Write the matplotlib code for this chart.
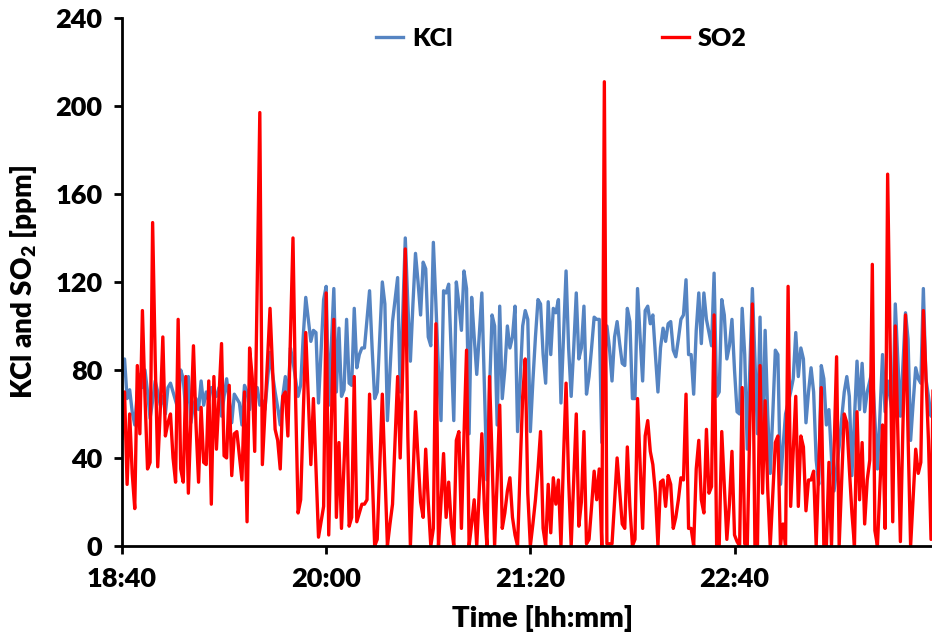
import numpy as np
import matplotlib
matplotlib.use("Agg")
import matplotlib.pyplot as plt

# Minute-by-minute readings starting at 18:40
so2 = [
    49, 70, 28, 60, 33, 17, 82, 51, 107, 68,
    35, 38, 147, 85, 36, 62, 95, 50, 56, 60,
    40, 29, 103, 35, 29, 77, 24, 58, 91, 55,
    29, 63, 38, 37, 75, 19, 77, 44, 68, 92,
    41, 40, 73, 32, 51, 52, 41, 30, 70, 11,
    90, 77, 43, 120, 197, 37, 60, 84, 108, 80,
    53, 48, 35, 68, 70, 50, 95, 140, 68, 15,
    21, 59, 97, 67, 37, 67, 36, 4, 11, 18,
    115, 5, 54, 103, 13, 47, 8, 38, 67, 9,
    13, 77, 11, 15, 19, 19, 21, 69, 35, 0,
    3, 36, 69, 35, 0, 10, 19, 48, 77, 40,
    80, 135, 50, 0, 30, 61, 40, 20, 13, 44,
    20, 0, 8, 101, 0, 20, 42, 13, 29, 10,
    0, 48, 52, 8, 50, 89, 0, 10, 21, 0,
    25, 51, 17, 0, 77, 40, 0, 30, 64, 8,
    15, 25, 31, 13, 5, 0, 35, 68, 85, 24,
    0, 10, 21, 35, 52, 8, 0, 28, 6, 31,
    19, 30, 0, 40, 74, 30, 0, 30, 60, 9,
    20, 52, 1, 3, 18, 34, 21, 35, 0, 211,
    1, 1, 1, 20, 40, 25, 10, 8, 45, 18,
    0, 3, 67, 38, 8, 50, 57, 43, 37, 24,
    0, 29, 30, 18, 32, 28, 8, 13, 21, 31,
    30, 69, 8, 8, 0, 35, 48, 21, 15, 53,
    24, 27, 105, 0, 0, 52, 28, 3, 19, 43,
    5, 2, 0, 72, 1, 0, 55, 110, 0, 0,
    82, 24, 66, 26, 0, 24, 47, 50, 0, 10,
    0, 118, 18, 43, 68, 18, 50, 45, 16, 30,
    30, 34, 0, 36, 72, 0, 0, 38, 0, 43,
    86, 0, 30, 60, 56, 35, 15, 0, 61, 21,
    47, 10, 30, 39, 128, 7, 0, 28, 55, 8,
    169, 90, 11, 100, 50, 2, 55, 105, 50, 0,
    22, 44, 33, 38, 107, 78, 48, 3, 90,
]

kcl = [
    78, 85, 67, 71, 61, 55, 70, 78, 72, 80,
    70, 58, 66, 75, 70, 64, 68, 60, 72, 74,
    70, 66, 62, 80, 76, 61, 77, 56, 64, 67,
    62, 75, 64, 70, 66, 72, 70, 68, 72, 59,
    68, 76, 66, 56, 69, 67, 65, 55, 73, 70,
    62, 76, 66, 72, 64, 66, 62, 75, 88, 78,
    70, 63, 55, 68, 77, 65, 90, 84, 76, 68,
    73, 95, 113, 103, 93, 98, 97, 65, 88, 112,
    118, 64, 90, 117, 70, 99, 68, 71, 103, 74,
    73, 108, 81, 87, 90, 90, 103, 116, 90, 67,
    70, 95, 120, 110, 57, 80, 102, 112, 122, 70,
    105, 140, 110, 84, 110, 133, 120, 105, 129, 126,
    95, 91, 138, 110, 80, 57, 116, 115, 119, 88,
    57, 120, 110, 98, 125, 117, 51, 113, 95, 78,
    96, 115, 72, 30, 70, 105, 100, 55, 109, 67,
    80, 100, 90, 95, 109, 52, 75, 100, 107, 103,
    52, 75, 95, 112, 110, 87, 74, 111, 87, 108,
    106, 112, 65, 95, 125, 90, 68, 90, 115, 85,
    90, 109, 69, 77, 90, 104, 103, 103, 47, 80,
    100, 90, 75, 95, 102, 92, 83, 82, 108, 102,
    67, 67, 117, 95, 75, 107, 109, 101, 105, 87,
    70, 90, 99, 93, 101, 102, 89, 86, 94, 103,
    105, 121, 87, 87, 69, 98, 115, 92, 115, 103,
    97, 91, 124, 68, 70, 112, 105, 85, 91, 103,
    80, 61, 60, 108, 87, 44, 80, 117, 85, 51,
    104, 43, 98, 60, 33, 60, 89, 87, 28, 45,
    60, 65, 70, 76, 97, 77, 90, 85, 56, 70,
    81, 70, 39, 28, 82, 76, 55, 62, 40, 25,
    35, 45, 58, 70, 77, 68, 32, 58, 84, 62,
    83, 61, 70, 75, 80, 58, 35, 60, 87, 61,
    75, 67, 59, 110, 85, 59, 82, 106, 94, 48,
    65, 81, 76, 74, 117, 76, 68, 59, 62,
]

x_tick_minutes = [0, 80, 160, 240]
x_tick_labels = ["18:40", "20:00", "21:20", "22:40"]
y_ticks = [0, 40, 80, 120, 160, 200, 240]

WEIGHT = "heavy"
plt.rcParams["font.family"] = ["Lato", "DejaVu Sans"]
plt.rcParams["font.weight"] = WEIGHT
plt.rcParams["mathtext.fontset"] = "custom"
plt.rcParams["mathtext.rm"] = "Lato:heavy"
plt.rcParams["mathtext.default"] = "rm"

minutes = np.arange(len(kcl))

fig = plt.figure(figsize=(9.32, 6.35), dpi=100)
ax = fig.add_axes([0.1309, 0.1402, 0.8686, 0.8315])

ax.plot(minutes, kcl, color="#5584C2", lw=2.4, label="KCl", solid_joinstyle="round")
ax.plot(minutes, so2, color="#FF0000", lw=2.4, label="SO2", solid_joinstyle="round")

ax.set_xlim(0, 317.2)
ax.set_ylim(0, 240)
ax.set_xticks(x_tick_minutes)
ax.set_xticklabels(x_tick_labels)
ax.set_yticks(y_ticks)

for side in ("top", "right"):
    ax.spines[side].set_visible(False)
for side in ("left", "bottom"):
    ax.spines[side].set_linewidth(2.0)
    ax.spines[side].set_color("black")

ax.tick_params(axis="both", direction="out", length=6, width=2.0,
               labelsize=19.5, colors="black")
ax.tick_params(axis="x", pad=9)
ax.tick_params(axis="y", pad=8)
for lbl in ax.get_xticklabels() + ax.get_yticklabels():
    lbl.set_fontweight(WEIGHT)

ax.set_xlabel("Time [hh:mm]", fontsize=21, fontweight=WEIGHT, labelpad=0)
ax.xaxis.set_label_coords(0.52, -0.112)
ax.set_ylabel("KCl and SO$_2$ [ppm]", fontsize=20, fontweight=WEIGHT)
ax.yaxis.set_label_coords(-0.103, 0.5)

leg = ax.legend(loc="center", bbox_to_anchor=(0.543, 0.96), ncol=2,
                frameon=False, fontsize=18, handlelength=1.08,
                handletextpad=0.34, columnspacing=8.4, borderpad=0)
for t in leg.get_texts():
    t.set_fontweight(WEIGHT)

fig.savefig("out.png", dpi=100)
